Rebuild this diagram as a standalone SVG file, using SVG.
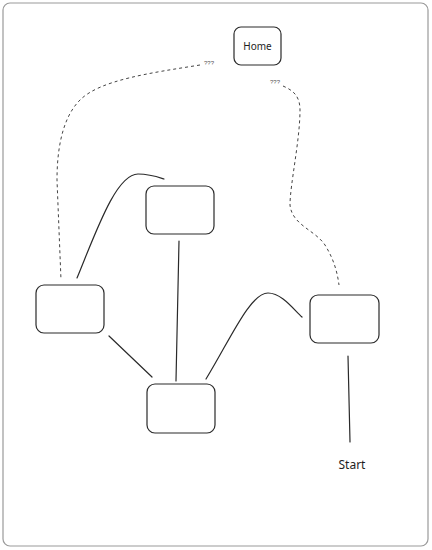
<svg xmlns="http://www.w3.org/2000/svg" width="432" height="550" viewBox="0 0 432 550">
<style>
.frame{fill:#fff;stroke:#9a9a9a;stroke-width:1.2}
.node{fill:#fff;stroke:#2a2a2a;stroke-width:1.2}
.edge{fill:none;stroke:#2a2a2a;stroke-width:1.2;stroke-linecap:round}
.dash{fill:none;stroke:#444;stroke-width:1;stroke-dasharray:3 3}
.lbl{font-family:"Noto Sans","Liberation Sans",sans-serif;font-size:10px;fill:#1e1e1e;text-anchor:middle}
.q{font-family:"Liberation Sans",sans-serif;font-size:6px;fill:#555;text-anchor:middle}
</style>
<rect class="frame" x="3" y="3" width="425" height="543" rx="7"/>
<g id="connectors">
<path class="edge" d="M77,278 C96,232 116,174 138,174 C150,174 158,177 164,179"/>
<path class="edge" d="M179,241 L176,381"/>
<path class="edge" d="M109,336 L152,377"/>
<path class="edge" d="M206,379 C230,340 250,293 268,293 C282,293 294,310 302,317"/>
<path class="edge" d="M348,356 L350,442"/>
<path class="dash" d="M200,65 C150,73 100,80 80,100 C62,118 57,150 57,180 L61,280"/>
<path class="dash" d="M283,86 C292,90 300,95 300,110 C300,140 290,185 290,205 C292,225 315,230 325,245 C333,258 337,270 339,285"/>
<text class="q" x="209" y="65">???</text>
<text class="q" x="275" y="84">???</text>
</g>
<g id="home"><rect class="node" x="234" y="27" width="47" height="38" rx="7"/><text class="lbl" x="257.5" y="50">Home</text></g>
<g id="top"><rect class="node" x="146" y="186" width="68" height="48" rx="8"/></g>
<g id="left"><rect class="node" x="36" y="285" width="68" height="48" rx="8"/></g>
<g id="bottom"><rect class="node" x="147" y="384" width="68" height="49" rx="8"/></g>
<g id="right"><rect class="node" x="310" y="295" width="69" height="48" rx="8"/></g>
<g id="start"><text class="lbl" x="352" y="469" style="font-size:12px">Start</text></g>
</svg>
